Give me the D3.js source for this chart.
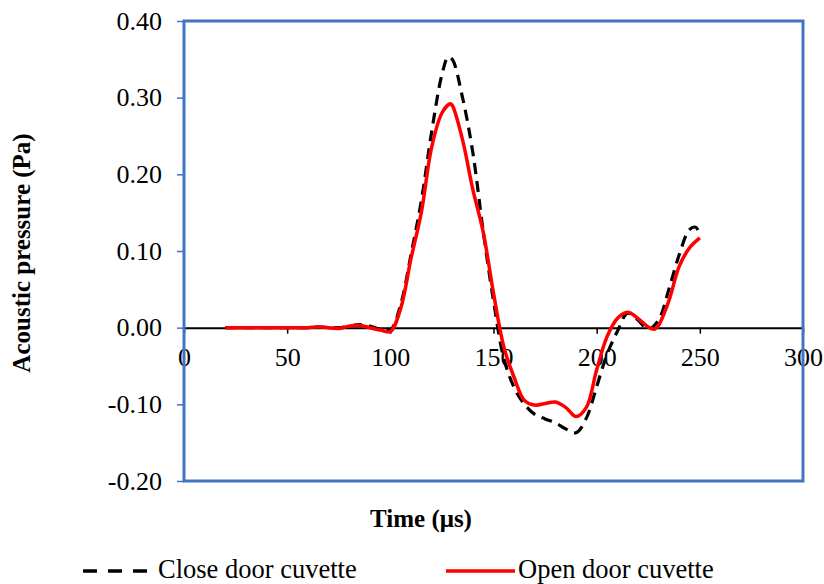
<!DOCTYPE html>
<html><head><meta charset="utf-8">
<script src="https://cdn.jsdelivr.net/npm/d3@7"></script>
<style>body{margin:0;background:#fff}svg{display:block}text{font-family:"Liberation Serif","Times New Roman",serif;fill:#000}</style>
</head><body><svg id="c" width="824" height="584"></svg>
<script>
const timeClose = [20,25,30,35,40,45,50,55,60,65,70,75,80,85,90,95,100,105,110,115,120,125,128,130,135,140,145,150,155,160,165,170,175,180,185,190,195,200,205,210,215,220,225,230,235,240,245,248,250];
const closeDoor = [0,0,0,0,0,0,0,0,0,0.001,0,0,0.002,0.004,0.002,-0.002,-0.003,0.03,0.095,0.165,0.255,0.33,0.353,0.35,0.30,0.228,0.126,0.035,-0.04,-0.078,-0.10,-0.113,-0.119,-0.124,-0.132,-0.137,-0.118,-0.077,-0.035,-0.005,0.019,0.01,-0.002,0.01,0.05,0.095,0.128,0.131,0.122];
const timeOpen = [20,25,30,35,40,45,50,55,60,65,70,75,80,85,90,95,100,105,110,115,120,125,129,130,135,140,145,150,155,160,165,170,175,180,185,190,195,200,205,210,215,220,225,228,230,235,240,245,250];
const openDoor = [0,0,0,0,0,0,0,0,0,0.001,0,-0.001,0.002,0.003,0,-0.003,-0.005,0.025,0.09,0.15,0.235,0.28,0.292,0.29,0.245,0.18,0.125,0.045,-0.025,-0.065,-0.095,-0.101,-0.099,-0.097,-0.104,-0.116,-0.104,-0.055,-0.012,0.012,0.02,0.012,0.001,-0.002,0.003,0.035,0.08,0.104,0.117];
const xTicks = [0,50,100,150,200,250,300];
const yTicks = [-0.2,-0.1,0,0.1,0.2,0.3,0.4];
const seriesNames = ["Close door cuvette","Open door cuvette"];

const svg = d3.select("#c");
const L=184,R=803,T=21,B=481;
const x = d3.scaleLinear().domain([0,300]).range([L,R]);
const y = d3.scaleLinear().domain([-0.2,0.4]).range([B,T]);
const blue="#4472C4";

// y ticks (outward, blue)
const yAxis = svg.append("g").attr("transform",`translate(${L},0)`)
  .call(d3.axisLeft(y).tickValues(yTicks).tickSize(7).tickPadding(15).tickFormat(d => d3.format(".2f")(d).replace("\u2212","-")));
yAxis.select(".domain").remove();
yAxis.selectAll("line").attr("stroke",blue).attr("stroke-width",1.5);
yAxis.selectAll("text").style("font-size","26px").style("font-family","Liberation Serif");

// x axis at zero
const xAxis = svg.append("g").attr("transform",`translate(0,${y(0)})`)
  .call(d3.axisBottom(x).tickValues(xTicks).tickSize(6).tickPadding(14).tickSizeOuter(0).tickFormat(d3.format("d")));
xAxis.select(".domain").attr("stroke","#000").attr("stroke-width",2);
xAxis.selectAll("line").attr("stroke","#000").attr("stroke-width",1.5);
xAxis.selectAll("text").style("font-size","26px").style("font-family","Liberation Serif");

const line = d3.line().curve(d3.curveCatmullRom.alpha(0.5));
const closePts = timeClose.map((t,i)=>[x(t),y(closeDoor[i])]);
const openPts = timeOpen.map((t,i)=>[x(t),y(openDoor[i])]);
svg.append("path").attr("d",line(closePts)).attr("fill","none").attr("stroke","#000").attr("stroke-width",3.2).attr("stroke-dasharray","11,7");
svg.append("path").attr("d",line(openPts)).attr("fill","none").attr("stroke","#ff0000").attr("stroke-width",3.5);

// border
svg.append("rect").attr("x",L).attr("y",T).attr("width",R-L).attr("height",B-T).attr("fill","none").attr("stroke",blue).attr("stroke-width",3);

// titles
svg.append("text").attr("transform","translate(30,253) rotate(-90)").attr("text-anchor","middle")
  .style("font-size","25px").style("font-weight","bold").text("Acoustic pressure (Pa)");
svg.append("text").attr("x",421).attr("y",527).attr("text-anchor","middle")
  .style("font-size","25px").style("font-weight","bold").text("Time (μs)");

// legend
const lg = svg.append("g");
lg.append("line").attr("x1",83).attr("x2",154).attr("y1",571).attr("y2",571).attr("stroke","#000").attr("stroke-width",3.5).attr("stroke-dasharray","14,11");
lg.append("text").attr("x",158).attr("y",578).style("font-size","26.5px").text(seriesNames[0]);
lg.append("line").attr("x1",446).attr("x2",515).attr("y1",571).attr("y2",571).attr("stroke","#ff0000").attr("stroke-width",3.5);
lg.append("text").attr("x",518).attr("y",578).style("font-size","26.5px").text(seriesNames[1]);
</script></body></html>
